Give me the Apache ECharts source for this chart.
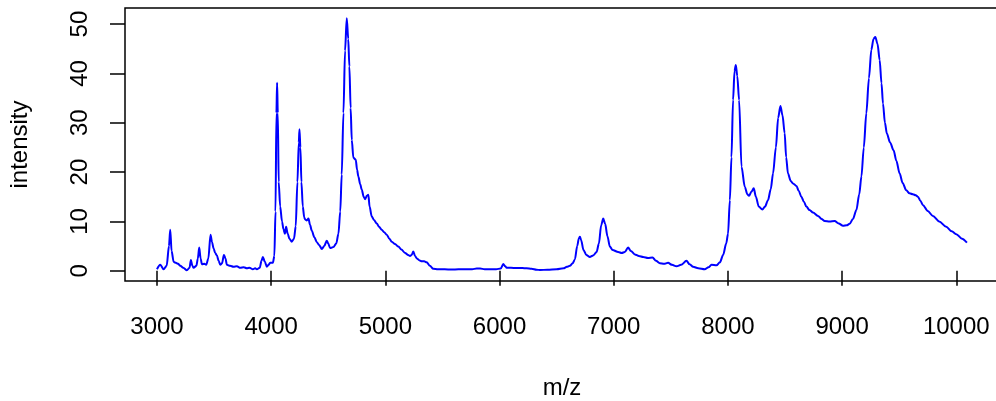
<!DOCTYPE html>
<html>
<head>
<meta charset="utf-8">
<script src="https://cdn.jsdelivr.net/npm/echarts@6/dist/echarts.min.js"></script>
<style>html,body{margin:0;padding:0;background:#fff;}#c{width:996px;height:401px;}</style>
</head>
<body>
<div id="c"></div>
<script>
const mz = [3000,3029,3058,3085,3105,3116,3128,3146,3165,3185,3204,3230,3262,3285,3297,3310,3321,3345,3358,3370,3382,3394,3415,3431,3450,3469,3482,3496,3510,3525,3540,3554,3570,3586,3600,3612,3640,3670,3700,3730,3760,3787,3810,3840,3860,3875,3900,3915,3927,3945,3962,3978,3991,4015,4028,4038,4046,4052,4058,4066,4079,4095,4108,4120,4131,4145,4160,4181,4200,4215,4230,4242,4248,4256,4265,4277,4290,4298,4312,4327,4340,4356,4378,4400,4420,4444,4465,4487,4500,4516,4545,4570,4589,4605,4618,4633,4647,4662,4675,4685,4696,4706,4720,4741,4752,4764,4779,4794,4810,4823,4838,4851,4862,4881,4900,4925,4945,4968,4990,5012,5035,5056,5085,5114,5140,5173,5200,5216,5230,5245,5260,5275,5300,5319,5340,5362,5390,5420,5460,5520,5580,5640,5700,5760,5800,5830,5870,5920,5970,6010,6033,6050,6062,6100,6150,6200,6237,6280,6325,6354,6420,6500,6560,6590,6616,6640,6660,6680,6695,6704,6715,6735,6760,6791,6820,6850,6870,6890,6908,6925,6945,6966,6990,7039,7070,7097,7126,7150,7185,7220,7258,7300,7340,7370,7404,7440,7476,7510,7550,7590,7637,7665,7695,7740,7797,7830,7856,7900,7930,7958,7985,8001,8017,8031,8045,8058,8069,8082,8098,8119,8148,8170,8185,8205,8226,8245,8270,8302,8325,8351,8375,8395,8420,8440,8460,8478,8497,8510,8526,8550,8570,8600,8620,8643,8665,8687,8715,8745,8789,8820,8847,8890,8935,8970,9008,9040,9066,9095,9125,9150,9169,9190,9212,9235,9256,9275,9291,9310,9329,9345,9358,9375,9392,9420,9451,9475,9504,9530,9562,9590,9620,9645,9664,9685,9708,9750,9795,9850,9912,9960,10000,10050,10093];
const intensity = [0.3,1.2,0.3,1.0,5.0,8.3,4.0,1.8,1.6,1.4,1.0,0.6,0.1,0.6,2.2,1.0,0.6,1.0,2.5,4.7,2.5,1.3,1.4,1.2,2.5,7.3,5.8,4.5,3.6,3.1,2.0,1.2,1.5,3.2,2.5,1.2,1.0,0.8,0.9,0.6,0.7,0.5,0.6,0.3,0.5,0.3,0.6,2.0,2.8,1.8,0.8,1.2,1.6,1.6,3.0,12,32,38.1,32,18,13,10,8.4,7.5,8.9,7.5,6.5,5.9,6.5,9,18,26,28.7,25,18,13,10.8,10.4,10.2,10.6,9.3,8.1,6.8,5.8,5.2,4.4,5.0,6.1,5.5,4.6,4.8,5.5,7.5,12,19.5,32,44.6,51.2,47,41.4,33,26.5,22.9,22.5,20.5,19.1,17.6,16.4,15.0,14.5,15.2,15.4,13,11.0,10.3,9.6,8.9,8.3,7.8,7.3,6.5,5.9,5.4,4.9,4.3,3.6,3.2,3.0,3.2,3.9,3.0,2.5,2.1,1.9,1.9,1.7,1.0,0.4,0.3,0.3,0.25,0.3,0.3,0.3,0.45,0.45,0.3,0.3,0.3,0.45,1.35,0.9,0.6,0.6,0.55,0.55,0.5,0.4,0.2,0.15,0.2,0.3,0.5,0.8,1.0,1.5,2.3,5.0,6.6,6.9,6.2,4.2,3.2,2.8,3.1,3.8,5.5,9.2,10.6,9.5,7.0,4.9,4.2,3.8,3.6,3.8,4.7,4.0,3.3,3.0,2.8,2.6,2.7,2.0,1.5,1.4,1.6,1.2,0.9,1.2,2.0,1.3,0.8,0.5,0.3,0.7,1.2,1.1,1.7,3.2,5.5,7.5,14.3,23,34.6,40.5,41.7,39.5,34.6,21.1,17.0,15.5,15.2,16.0,16.7,15.0,13.0,12.4,13.0,14.3,16.5,19.7,25,31,33.4,31.5,27.9,23,19.7,18.2,17.7,17.2,16.2,15.0,14.0,13.0,12.3,11.8,11.1,10.5,10.1,10.0,10.1,9.6,9.1,9.2,9.5,10.5,12.3,15.5,19.1,25,31.9,39,44.8,47,47.4,46,42.7,38,33.9,30,27.8,26,24.4,22.3,19.7,17.8,16.3,15.7,15.5,15.3,15.0,14.2,13.3,12.1,11.1,10.0,8.9,8.0,7.4,6.5,5.7];
const xTicks = [3000,4000,5000,6000,7000,8000,9000,10000];
const yTicks = [0,10,20,30,40,50];

const chart = echarts.init(document.getElementById('c'), null, {renderer:'canvas'});
const font = 'Liberation Sans, Arial, Helvetica, sans-serif';
chart.setOption({
  animation: false,
  backgroundColor: '#ffffff',
  grid: {left: 125, right: -3, top: 8, bottom: 120, containLabel: false, outerBoundsMode: 'none',
         show: true, borderColor: '#000', borderWidth: 1.5, backgroundColor: 'transparent'},
  xAxis: {
    type: 'value', min: 2720, max: 10374,
    name: 'm/z', nameLocation: 'middle', nameGap: 107,
    nameTextStyle: {fontSize: 24, color: '#000', fontFamily: font, align: 'center', verticalAlign: 'middle'},
    axisLine: {show: false},
    splitLine: {show: false},
    axisTick: {show: true, length: 15, customValues: xTicks, lineStyle: {color: '#000', width: 1.5}},
    axisLabel: {customValues: xTicks, formatter: v => String(v), fontSize: 24, color: '#000', fontFamily: font,
                margin: 46, align: 'center', verticalAlign: 'middle'}
  },
  yAxis: {
    type: 'value', min: -2.08, max: 53.26,
    name: 'intensity', nameLocation: 'middle', nameGap: 105, nameRotate: 90,
    nameTextStyle: {fontSize: 24, color: '#000', fontFamily: font, align: 'center', verticalAlign: 'middle'},
    axisLine: {show: false},
    splitLine: {show: false},
    axisTick: {show: true, length: 15, customValues: yTicks, lineStyle: {color: '#000', width: 1.5}},
    axisLabel: {customValues: yTicks, formatter: v => String(v), rotate: 90, fontSize: 24, color: '#000', fontFamily: font,
                margin: 45, align: 'center', verticalAlign: 'middle'}
  },
  series: [{
    type: 'line',
    data: mz.map((m, i) => [m, intensity[i]]),
    showSymbol: false,
    smooth: 0.3,
    smoothMonotone: 'x',
    lineStyle: {color: '#0000ff', width: 2},
    itemStyle: {color: '#0000ff'}
  }]
});
</script>
</body>
</html>
